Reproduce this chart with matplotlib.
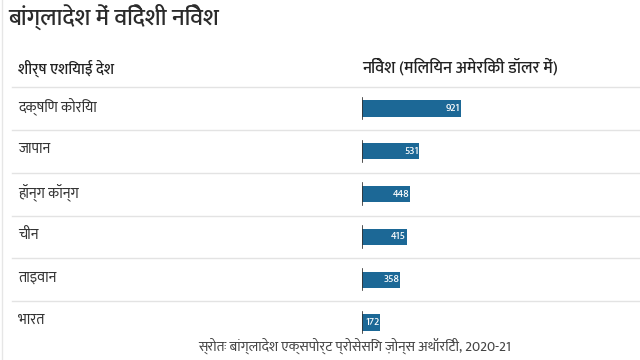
import matplotlib
matplotlib.use("Agg")
import matplotlib.pyplot as plt
from matplotlib.lines import Line2D
from matplotlib.transforms import blended_transform_factory

# data
countries = ["दक्षिण कोरिया", "जापान", "हॉन्ग कॉन्ग", "चीन", "ताइवान", "भारत"]
investment = [921, 531, 448, 415, 358, 172]

title = "बांग्लादेश में विदेशी निवेश"
col1_header = "शीर्ष एशियाई देश"
col2_header = "निवेश (मिलियन अमेरिकी डॉलर में)"
source = "स्रोतः बांग्लादेश एक्सपोर्ट प्रोसेसिंग ज़ोन्स अथॉरिटी, 2020-21"

plt.rcParams["font.family"] = ["Mukta", "Noto Sans Devanagari", "DejaVu Sans"]

W, H = 640, 360
fig = plt.figure(figsize=(W / 100, H / 100), dpi=100)
fig.patch.set_facecolor("white")

# bar area: x from 362px, 0.1075 px per unit; rows between y=87px and y=344px
x0, scale = 362, 0.1075
top, bottom = 87, 344
ax = fig.add_axes([x0 / W, 1 - bottom / H, 1000 * scale / W, (bottom - top) / H])
ax.set_xlim(0, 1000)
ax.set_ylim(len(countries) - 0.5, -0.5)
ax.axis("off")

ypos = list(range(len(countries)))
ax.barh(ypos, investment, height=0.38, color="#1c6896", zorder=2)
for y, v in zip(ypos, investment):
    ax.text(v - 6, y, str(v), ha="right", va="center", color="white",
            fontsize=7.5, fontweight="medium", zorder=3)
    ax.plot([0, 0], [y - 0.25, y + 0.25], color="#333333", lw=1.2, zorder=3)

# row labels and separators
tr = blended_transform_factory(fig.transFigure, ax.transData)
for y, c in zip(ypos, countries):
    ax.text(18 / W, y - 0.05, c, transform=tr, ha="left", va="center",
            fontsize=10.5, color="#333333")
for y in [p - 0.5 for p in ypos[1:]] + [-0.5]:
    ax.add_line(Line2D([12 / W, 1.0], [y, y], transform=tr, color="#e3e3e3",
                       lw=1, clip_on=False, zorder=1))

# left border
fig.add_artist(Line2D([2 / W, 2 / W], [0, 1], color="#e6e6e6", lw=1))

# title and headers
fig.text(8 / W, 1 - 18 / H, title, ha="left", va="center", fontsize=17,
         color="#2b2b2b", fontweight="medium")
fig.text(18 / W, 1 - 68 / H, col1_header, ha="left", va="center", fontsize=11,
         color="#222222", fontweight="medium")
fig.text(362 / W, 1 - 68 / H, col2_header, ha="left", va="center", fontsize=12,
         color="#222222", fontweight="medium")

fig.text(355 / W, 1 - 346 / H, source, ha="center", va="center", fontsize=10.2,
         color="#444444")

fig.savefig("out.png", dpi=100)
